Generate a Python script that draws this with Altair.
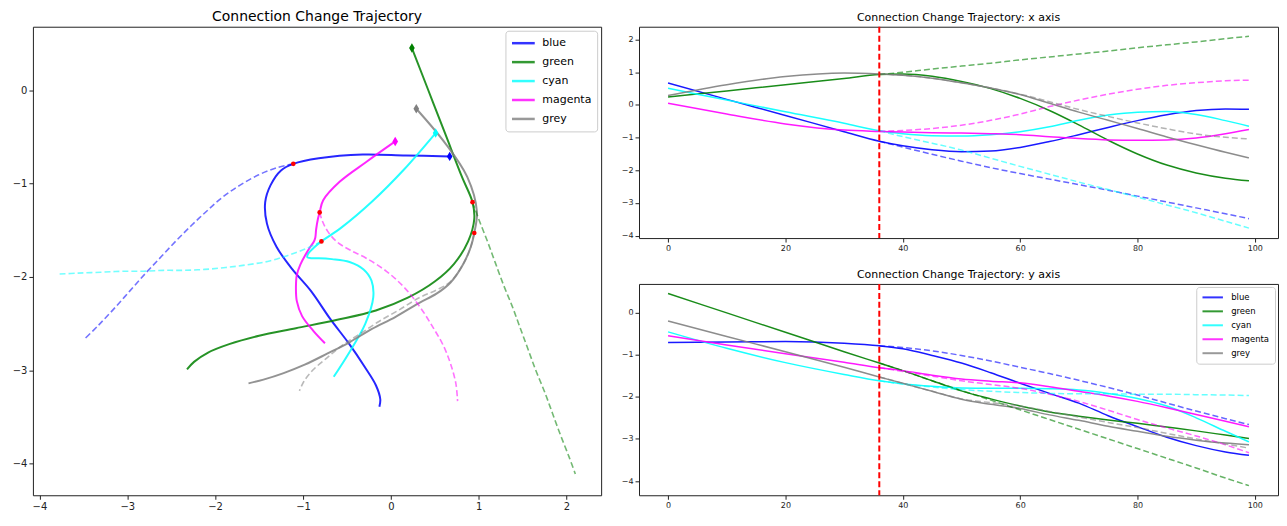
import altair as alt
import pandas as pd

SERIES = ["blue", "green", "cyan", "magenta", "grey"]
COLORS = ["#0000ff", "#008000", "#00ffff", "#ff00ff", "#808080"]
CUT_T = 36

# time steps of the observed (solid) trajectory and of the predicted (dashed) one
T_SOLID = [0, 10, 20, 30, 36, 40, 45, 50, 55, 60, 65, 70, 75, 80, 85, 90, 95, 99]
T_PRED = [36, 40, 45, 50, 55, 60, 65, 70, 75, 80, 85, 90, 95, 99]

# observed trajectories (x and y components)
BLUE_X = [0.67, 0.17, -0.32, -0.82, -1.11, -1.25, -1.37, -1.43, -1.41, -1.30, -1.12, -0.91, -0.69, -0.48, -0.30, -0.17, -0.12, -0.13]
GREEN_X = [0.24, 0.43, 0.62, 0.81, 0.93, 0.95, 0.88, 0.72, 0.50, 0.20, -0.17, -0.61, -1.08, -1.50, -1.84, -2.08, -2.24, -2.32]
CYAN_X = [0.51, 0.15, -0.21, -0.56, -0.79, -0.88, -0.94, -0.95, -0.91, -0.82, -0.67, -0.47, -0.31, -0.22, -0.20, -0.29, -0.48, -0.65]
MAGENTA_X = [0.05, -0.28, -0.58, -0.77, -0.81, -0.83, -0.85, -0.86, -0.88, -0.91, -0.97, -1.03, -1.07, -1.08, -1.07, -1.01, -0.88, -0.75]
GREY_X = [0.29, 0.62, 0.87, 0.98, 0.95, 0.91, 0.82, 0.68, 0.52, 0.32, 0.05, -0.22, -0.47, -0.72, -0.98, -1.22, -1.45, -1.62]

BLUE_Y = [-0.71, -0.70, -0.69, -0.73, -0.79, -0.86, -1.02, -1.20, -1.43, -1.68, -1.92, -2.15, -2.45, -2.71, -2.96, -3.16, -3.31, -3.39]
GREEN_Y = [0.45, -0.01, -0.47, -0.93, -1.20, -1.38, -1.62, -1.86, -2.05, -2.22, -2.36, -2.46, -2.55, -2.63, -2.72, -2.81, -2.91, -2.99]
CYAN_Y = [-0.46, -0.85, -1.19, -1.47, -1.62, -1.69, -1.75, -1.79, -1.80, -1.80, -1.81, -1.84, -1.92, -2.04, -2.22, -2.50, -2.82, -3.07]
MAGENTA_Y = [-0.55, -0.77, -0.98, -1.18, -1.31, -1.38, -1.49, -1.58, -1.63, -1.67, -1.76, -1.87, -1.98, -2.11, -2.26, -2.42, -2.58, -2.71]
GREY_Y = [-0.20, -0.57, -0.93, -1.30, -1.53, -1.68, -1.87, -2.06, -2.18, -2.28, -2.43, -2.56, -2.70, -2.82, -2.94, -3.03, -3.10, -3.14]

# predicted trajectories (x and y components), from the cut point on
BLUE_X_PRED = [-1.11, -1.29, -1.51, -1.72, -1.92, -2.10, -2.27, -2.44, -2.61, -2.79, -2.97, -3.15, -3.33, -3.48]
GREEN_X_PRED = [0.93, 1.00, 1.10, 1.19, 1.28, 1.38, 1.47, 1.56, 1.65, 1.75, 1.84, 1.93, 2.03, 2.10]
CYAN_X_PRED = [-0.79, -0.97, -1.17, -1.38, -1.63, -1.88, -2.12, -2.36, -2.59, -2.82, -3.06, -3.30, -3.56, -3.77]
MAGENTA_X_PRED = [-0.81, -0.78, -0.72, -0.62, -0.47, -0.28, -0.05, 0.15, 0.33, 0.48, 0.60, 0.68, 0.74, 0.76]
GREY_X_PRED = [0.95, 0.91, 0.82, 0.68, 0.52, 0.33, 0.10, -0.14, -0.35, -0.55, -0.73, -0.89, -0.99, -1.04]

BLUE_Y_PRED = [-0.79, -0.83, -0.91, -1.02, -1.15, -1.30, -1.45, -1.61, -1.78, -1.96, -2.15, -2.34, -2.52, -2.66]
GREEN_Y_PRED = [-1.20, -1.38, -1.62, -1.85, -2.08, -2.31, -2.54, -2.77, -3.00, -3.23, -3.46, -3.69, -3.93, -4.11]
CYAN_Y_PRED = [-1.62, -1.70, -1.77, -1.83, -1.87, -1.90, -1.92, -1.93, -1.93, -1.94, -1.94, -1.95, -1.96, -1.97]
MAGENTA_Y_PRED = [-1.31, -1.40, -1.51, -1.62, -1.71, -1.80, -1.94, -2.11, -2.32, -2.54, -2.74, -2.93, -3.14, -3.33]
GREY_Y_PRED = [-1.53, -1.68, -1.87, -2.05, -2.14, -2.22, -2.35, -2.48, -2.61, -2.73, -2.87, -3.00, -3.12, -3.22]

OBSERVED = [("blue", BLUE_X, BLUE_Y), ("green", GREEN_X, GREEN_Y), ("cyan", CYAN_X, CYAN_Y),
            ("magenta", MAGENTA_X, MAGENTA_Y), ("grey", GREY_X, GREY_Y)]
PREDICTED = [("blue", BLUE_X_PRED, BLUE_Y_PRED), ("green", GREEN_X_PRED, GREEN_Y_PRED),
             ("cyan", CYAN_X_PRED, CYAN_Y_PRED), ("magenta", MAGENTA_X_PRED, MAGENTA_Y_PRED),
             ("grey", GREY_X_PRED, GREY_Y_PRED)]

rows = []
for name, xs, ys in OBSERVED:
    for t, x, y in zip(T_SOLID, xs, ys):
        rows.append({"series": name, "t": t, "x": x, "y": y, "kind": "solid"})
for name, xs, ys in PREDICTED:
    for t, x, y in zip(T_PRED, xs, ys):
        rows.append({"series": name, "t": t, "x": x, "y": y, "kind": "dashed"})
df = pd.DataFrame(rows)
cut_df = pd.DataFrame({"t": [CUT_T]})

FONT = "DejaVu Sans"
DASH = [6, 3]
DIAMOND = "M0,-1L0.6,0L0,1L-0.6,0Z"

color_scale = alt.Scale(domain=SERIES, range=COLORS)


def color(legend):
    return alt.Color("series:N", scale=color_scale, legend=legend, sort=SERIES)


left_legend = alt.Legend(title=None, orient="top-right", offset=4, symbolType="stroke",
                         symbolSize=520, symbolStrokeWidth=2.5, labelFontSize=11,
                         labelFont=FONT, clipHeight=15, rowPadding=4, padding=5,
                         strokeColor="#cccccc", fillColor="white", cornerRadius=3,
                         symbolOpacity=0.8, labelOffset=6)
right_legend = alt.Legend(title=None, orient="top-right", offset=3, symbolType="stroke",
                          symbolSize=420, symbolStrokeWidth=2, labelFontSize=8.5,
                          labelFont=FONT, clipHeight=11, rowPadding=3, padding=5,
                          strokeColor="#cccccc", fillColor="white", cornerRadius=3,
                          symbolOpacity=0.8, labelOffset=7)

base = alt.Chart(df)
solid = alt.datum.kind == "solid"
dashed = alt.datum.kind == "dashed"

# ---------------- left panel: 2-D trajectories ----------------
lx = alt.X("x:Q", scale=alt.Scale(domain=[-4.074, 2.394], nice=False, zero=False),
           axis=alt.Axis(values=[-4, -3, -2, -1, 0, 1, 2], title=None, labelFontSize=10))
ly = alt.Y("y:Q", scale=alt.Scale(domain=[-4.338, 0.678], nice=False, zero=False),
           axis=alt.Axis(values=[-4, -3, -2, -1, 0], title=None, labelFontSize=10))

left_solid = base.transform_filter(solid).mark_line(
    strokeWidth=2, opacity=0.85, interpolate="catmull-rom").encode(
    x=lx, y=ly, order="t:Q", color=color(left_legend))
left_dashed = base.transform_filter(dashed).mark_line(
    strokeWidth=1.6, opacity=0.55, strokeDash=DASH, interpolate="catmull-rom").encode(
    x=lx, y=ly, order="t:Q", color=color(None))
left_start = base.transform_filter(solid & (alt.datum.t == 0)).mark_point(
    shape=DIAMOND, filled=True, size=90, opacity=1).encode(x=lx, y=ly, color=color(None))
left_cut = base.transform_filter(solid & (alt.datum.t == CUT_T)).mark_circle(
    color="red", size=22, opacity=1).encode(x=lx, y=ly)

left = alt.layer(left_solid, left_dashed, left_start, left_cut).properties(
    width=570, height=470,
    title=alt.Title("Connection Change Trajectory", fontSize=14, font=FONT,
                    fontWeight="normal", offset=3))

# ---------------- right panels: components over time ----------------
tx = alt.X("t:Q", scale=alt.Scale(domain=[-4.95, 103.95], nice=False, zero=False),
           axis=alt.Axis(values=[0, 20, 40, 60, 80, 100], title=None, labelFontSize=8))


def time_panel(field, domain, ticks, title, legend):
    y = alt.Y(f"{field}:Q", scale=alt.Scale(domain=domain, nice=False, zero=False),
              axis=alt.Axis(values=ticks, title=None, labelFontSize=8))
    s = base.transform_filter(solid).mark_line(
        strokeWidth=1.5, opacity=0.9, interpolate="monotone").encode(
        x=tx, y=y, color=color(legend))
    d = base.transform_filter(dashed).mark_line(
        strokeWidth=1.5, opacity=0.6, strokeDash=DASH, interpolate="monotone").encode(
        x=tx, y=y, color=color(None))
    r = alt.Chart(cut_df).mark_rule(color="red", strokeDash=DASH, strokeWidth=2).encode(x=tx)
    return alt.layer(s, d, r).properties(
        width=641, height=212,
        title=alt.Title(title, fontSize=11, font=FONT, fontWeight="normal", offset=3))


top = time_panel("x", [-4.074, 2.394], [-4, -3, -2, -1, 0, 1, 2],
                 "Connection Change Trajectory: x axis", None)
bottom = time_panel("y", [-4.338, 0.678], [-4, -3, -2, -1, 0],
                    "Connection Change Trajectory: y axis", right_legend)

right = alt.vconcat(top, bottom, spacing=15).resolve_legend(color="independent")

chart = alt.hconcat(left, right, spacing=18).resolve_legend(color="independent").properties(
    padding={"left": 3, "top": 0, "right": 0, "bottom": 0}
).configure_view(stroke="#222222", strokeWidth=1).configure_axis(
    domain=False, grid=False, tickColor="#222222", tickSize=4, labelFont=FONT,
    labelColor="#222222", labelPadding=2
).configure_title(font=FONT, color="black")

chart.save("out.html", embed_options={"renderer": "svg", "actions": False})
